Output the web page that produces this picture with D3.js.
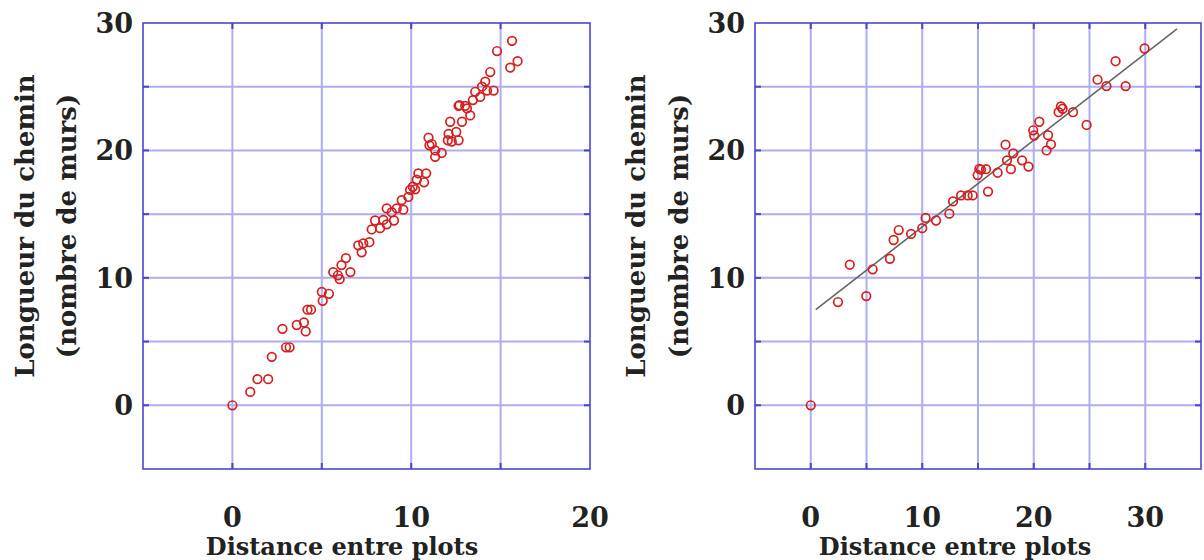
<!DOCTYPE html>
<html lang="fr">
<head>
    <meta charset="UTF-8">
    <title>Longueur du chemin vs distance entre plots</title>
    <script src="https://cdnjs.cloudflare.com/ajax/libs/d3/7.8.5/d3.min.js"></script>
    <style>
        body {
            margin: 0;
            background-color: white;
        }
        svg text {
            font-family: "DejaVu Serif", serif;
            font-weight: bold;
            fill: #222;
        }
    </style>
</head>
<body>
<div id="chart"></div>
<script>
    // left panel: all measurements
    const leftX = [0, 1, 1.4, 2, 2.2, 3.0, 3.2, 2.8, 3.6, 4.0, 4.1, 4.2, 4.4, 5.0, 5.05, 5.4,
        5.64, 5.9, 6.0, 6.1, 6.35, 6.6, 7.04, 7.23, 7.32, 7.66, 7.79, 7.98, 8.26, 8.44, 8.63, 8.63,
        8.91, 9.04, 9.19, 9.47, 9.56, 9.84, 9.94, 10.09, 10.22, 10.31, 10.4, 10.72, 10.84, 10.97,
        11.02, 11.15, 11.34, 11.34, 11.71, 12.05, 12.09, 12.18, 12.27, 12.52, 12.65, 12.65, 12.7,
        12.84, 13.02, 13.12, 13.3, 13.45, 13.58, 13.86, 13.96, 14.14, 14.24, 14.42, 14.61, 14.8,
        15.54, 15.64, 15.95];
    const leftY = [0, 1.05, 2.05, 2.05, 3.8, 4.55, 4.55, 6.0, 6.3, 6.5, 5.8, 7.5, 7.5, 8.9, 8.2, 8.75,
        10.45, 10.2, 9.9, 11.0, 11.55, 10.45, 12.55, 12.0, 12.7, 12.8, 13.8, 14.5, 13.9, 14.55, 14.2, 15.45,
        15.15, 14.5, 15.45, 16.1, 15.35, 16.35, 16.9, 17.15, 16.95, 17.7, 18.2, 17.5, 18.2, 21.0,
        20.4, 20.5, 20.0, 19.5, 19.8, 20.8, 21.3, 22.25, 20.7, 21.45, 20.8, 23.5, 23.55,
        22.25, 23.5, 23.3, 22.75, 23.95, 24.6, 24.2, 25.0, 25.4, 24.7, 26.15, 24.7, 27.8,
        26.5, 28.6, 27.0];

    // right panel: measurements with fitted line
    const rightX = [0, 2.44, 3.5, 4.98, 5.55, 7.1, 7.43, 7.89, 9.0, 10.0, 10.3, 11.24, 12.43, 12.76,
        13.48, 14.07, 14.52, 14.97, 15.12, 15.27, 15.72, 15.9, 16.76, 17.47, 17.6, 17.95, 18.16, 18.95,
        19.53, 19.95, 20.04, 20.5, 21.15, 21.28, 21.54, 22.23, 22.44, 22.59, 23.52, 24.74, 25.72,
        26.52, 27.34, 28.24, 29.94];
    const rightY = [0, 8.1, 11.03, 8.57, 10.67, 11.5, 12.97, 13.75, 13.45, 13.9, 14.7, 14.5, 15.04, 16.0,
        16.47, 16.47, 16.47, 18.07, 18.56, 18.5, 18.53, 16.77, 18.25, 20.45, 19.22, 18.53, 19.77, 19.22,
        18.73, 21.58, 21.17, 22.25, 20.0, 21.2, 20.47, 23.0, 23.45, 23.27, 23.0, 22.0, 25.55,
        25.05, 27.0, 25.05, 28.0];
    const fitSlope = 0.68;
    const fitIntercept = 7.2;
    const fitRange = [0.45, 32.85];

    const yDomain = [-5, 30];
    const yTicks = [0, 10, 20, 30];
    const leftXDomain = [-5, 20];
    const leftXTicks = [0, 10, 20];
    const rightXDomain = [-5, 35];
    const rightXTicks = [0, 10, 20, 30];
    const xTitle = 'Distance entre plots';
    const yTitle = ['Longueur du chemin', '(nombre de murs)'];

    const width = 1204;
    const height = 560;
    const frameColor = '#4646d2';
    const gridColor = '#adadf0';
    const dotColor = '#d42020';

    const svg = d3.select('#chart')
        .append('svg')
        .attr('width', width)
        .attr('height', height);

    function drawPanel(opts) {
        const x = d3.scaleLinear().domain(opts.xDomain).range([opts.left, opts.right]);
        const y = d3.scaleLinear().domain(yDomain).range([opts.bottom, opts.top]);
        const g = svg.append('g');

        const xGrid = d3.range(opts.xDomain[0] + 5, opts.xDomain[1], 5);
        const yGrid = d3.range(yDomain[0] + 5, yDomain[1], 5);

        // grid
        g.selectAll('.vgrid').data(xGrid).enter().append('line')
            .attr('x1', d => x(d)).attr('x2', d => x(d))
            .attr('y1', opts.top).attr('y2', opts.bottom)
            .attr('stroke', gridColor).attr('stroke-width', 2);
        g.selectAll('.hgrid').data(yGrid).enter().append('line')
            .attr('y1', d => y(d)).attr('y2', d => y(d))
            .attr('x1', opts.left).attr('x2', opts.right)
            .attr('stroke', gridColor).attr('stroke-width', 2);

        // small inward ticks on all four sides
        const tick = 6;
        xGrid.forEach(v => {
            g.append('line').attr('x1', x(v)).attr('x2', x(v))
                .attr('y1', opts.top).attr('y2', opts.top + tick)
                .attr('stroke', frameColor).attr('stroke-width', 2);
            g.append('line').attr('x1', x(v)).attr('x2', x(v))
                .attr('y1', opts.bottom).attr('y2', opts.bottom - tick)
                .attr('stroke', frameColor).attr('stroke-width', 2);
        });
        yGrid.forEach(v => {
            g.append('line').attr('y1', y(v)).attr('y2', y(v))
                .attr('x1', opts.left).attr('x2', opts.left + tick)
                .attr('stroke', frameColor).attr('stroke-width', 2);
            g.append('line').attr('y1', y(v)).attr('y2', y(v))
                .attr('x1', opts.right).attr('x2', opts.right - tick)
                .attr('stroke', frameColor).attr('stroke-width', 2);
        });

        // frame
        g.append('rect')
            .attr('x', opts.left).attr('y', opts.top)
            .attr('width', opts.right - opts.left)
            .attr('height', opts.bottom - opts.top)
            .attr('fill', 'none')
            .attr('stroke', frameColor)
            .attr('stroke-width', 1.6);

        // fitted line
        if (opts.fit) {
            g.append('line')
                .attr('x1', x(fitRange[0])).attr('y1', y(fitSlope * fitRange[0] + fitIntercept))
                .attr('x2', x(fitRange[1])).attr('y2', y(fitSlope * fitRange[1] + fitIntercept))
                .attr('stroke', '#666').attr('stroke-width', 1.6);
        }

        // points
        g.selectAll('circle').data(opts.xs.map((v, i) => [v, opts.ys[i]])).enter()
            .append('circle')
            .attr('cx', d => x(d[0]))
            .attr('cy', d => y(d[1]))
            .attr('r', 4.3)
            .attr('fill', 'none')
            .attr('stroke', dotColor)
            .attr('stroke-width', 1.7);

        // tick labels
        g.selectAll('.xlab').data(opts.xTicks).enter().append('text')
            .attr('x', d => x(d)).attr('y', 527)
            .attr('text-anchor', 'middle')
            .style('font-size', '27px')
            .text(d => d);
        g.selectAll('.ylab').data(yTicks).enter().append('text')
            .attr('x', opts.left - 10).attr('y', d => y(d) + 10)
            .attr('text-anchor', 'end')
            .style('font-size', '27px')
            .text(d => d);

        // axis titles
        g.append('text')
            .attr('x', opts.xTitleX).attr('y', 555)
            .attr('text-anchor', 'middle')
            .style('font-size', '24px')
            .text(xTitle);
        yTitle.forEach((t, i) => {
            const cx = opts.yTitleX[i];
            g.append('text')
                .attr('transform', `translate(${cx}, 226) rotate(-90)`)
                .attr('text-anchor', 'middle')
                .attr('dy', '0.35em')
                .style('font-size', '26px')
                .text(t);
        });
    }

    drawPanel({
        xs: leftX, ys: leftY, xDomain: leftXDomain, xTicks: leftXTicks,
        left: 143, right: 590, top: 23, bottom: 469,
        xTitleX: 342, yTitleX: [25, 67], fit: false
    });
    drawPanel({
        xs: rightX, ys: rightY, xDomain: rightXDomain, xTicks: rightXTicks,
        left: 755, right: 1201, top: 23, bottom: 469,
        xTitleX: 955, yTitleX: [636, 679], fit: true
    });
</script>
</body>
</html>
